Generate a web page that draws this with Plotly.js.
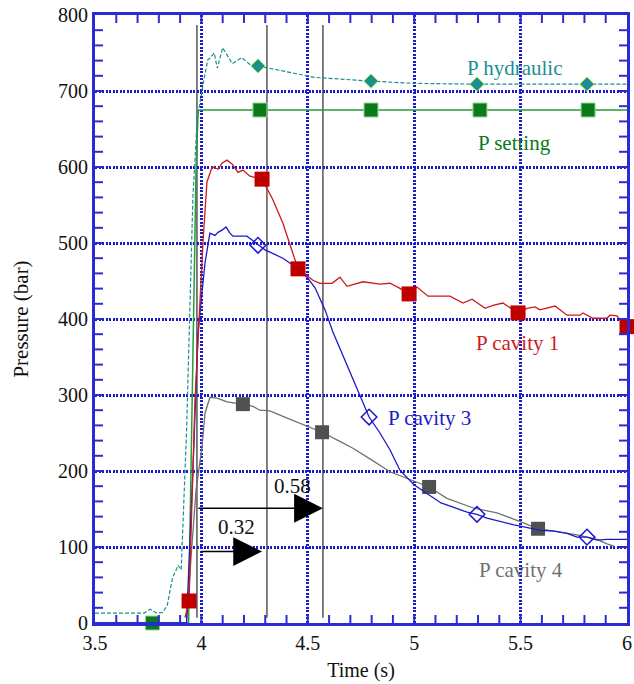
<!DOCTYPE html>
<html>
<head>
<meta charset="utf-8">
<script src="https://cdn.plot.ly/plotly-3.0.1.min.js"></script>
<style>html,body{margin:0;padding:0;background:#fff;}#chart{width:634px;height:684px;}</style>
</head>
<body>
<div id="chart"></div>
<script>
// ---- P setting ----
const settingX = [3.5, 3.94, 3.945, 3.975, 3.985, 6.0];
const settingY = [0, 0, 100, 600, 675, 675];
const settingMX = [3.77, 4.275, 4.797, 5.309, 5.817];
const settingMY = [0, 675, 675, 675, 675];

// ---- P hydraulic ----
const hydX = [3.5, 3.73, 3.76, 3.79, 3.82, 3.84, 3.855, 3.865, 3.885, 3.89, 3.9, 3.905, 3.93, 3.96, 3.98, 3.995, 4.01, 4.03, 4.04, 4.06, 4.075, 4.1, 4.145, 4.19, 4.235, 4.266, 4.53, 4.797, 5.0, 5.295, 5.812, 6.0];
const hydY = [13, 13, 18, 13, 14, 24, 46, 60, 72, 76, 72, 70, 250, 560, 662, 688, 712, 741, 743, 750, 730, 757, 736, 744, 733, 733, 718, 713, 710, 709, 709, 709];
const hydMX = [4.266, 4.797, 5.295, 5.812];
const hydMY = [733, 713, 709, 709];

// ---- P cavity 1 ----
const cav1X = [3.923, 3.942, 3.970, 4.008, 4.026, 4.050, 4.064, 4.078, 4.097, 4.120, 4.144, 4.172, 4.195, 4.228, 4.285, 4.336, 4.383, 4.426, 4.454, 4.524, 4.557, 4.614, 4.651, 4.684, 4.759, 4.839, 4.886, 4.929, 4.976, 5.013, 5.065, 5.168, 5.229, 5.272, 5.333, 5.370, 5.417, 5.488, 5.530, 5.568, 5.591, 5.662, 5.718, 5.779, 5.793, 5.840, 5.906, 5.920, 5.953, 5.967, 6.0];
const cav1Y = [7, 29, 293, 504, 580, 600, 599, 597, 605, 609, 604, 593, 596, 588, 584, 557, 526, 491, 466, 451, 447, 447, 455, 443, 449, 446, 447, 441, 433, 442, 430, 430, 421, 426, 414, 418, 421, 408, 414, 416, 412, 417, 405, 405, 408, 401, 401, 405, 404, 399, 390];
const cav1MX = [3.942, 4.285, 4.454, 4.976, 5.488, 6.0];
const cav1MY = [29, 584, 466, 433, 408, 390];

// ---- P cavity 3 ----
const cav3X = [3.5, 3.93, 3.96, 3.984, 4.017, 4.040, 4.064, 4.078, 4.097, 4.116, 4.134, 4.148, 4.214, 4.242, 4.266, 4.299, 4.322, 4.383, 4.449, 4.496, 4.534, 4.581, 4.618, 4.661, 4.712, 4.788, 4.839, 4.886, 4.933, 4.999, 5.126, 5.248, 5.295, 5.342, 5.469, 5.596, 5.657, 5.718, 5.765, 5.812, 5.859, 5.906, 6.0];
const cav3Y = [0, 0, 200, 382, 474, 513, 510, 514, 517, 521, 513, 509, 509, 503, 497, 491, 488, 480, 467, 455, 441, 412, 383, 355, 320, 271, 250, 228, 201, 182, 158, 146, 143, 138, 129, 122, 121, 118, 113, 113, 109, 110, 110];
const cav3MX = [4.266, 4.788, 5.295, 5.812];
const cav3MY = [497, 271, 143, 113];

// ---- P cavity 4 ----
const cav4X = [3.5, 3.93, 3.955, 3.975, 4.003, 4.017, 4.040, 4.073, 4.102, 4.120, 4.195, 4.242, 4.275, 4.322, 4.383, 4.463, 4.510, 4.567, 4.637, 4.712, 4.792, 4.886, 5.070, 5.154, 5.281, 5.389, 5.502, 5.582, 5.657, 5.765, 5.859, 5.906, 5.939];
const cav4Y = [0, 0, 100, 175, 232, 276, 297, 296, 293, 291, 288, 285, 280, 279, 272, 263, 258, 251, 241, 230, 216, 199, 179, 164, 151, 145, 133, 124, 121, 116, 110, 104, 101];
const cav4MX = [4.195, 4.567, 5.070, 5.582];
const cav4MY = [288, 251, 179, 124];

// ---- event lines and arrows ----
const eventTimes = [3.979, 4.308, 4.571];
const eventSpan = [7, 787];
const arrowLabels = ['0.58', '0.32'];
const arrowTail = [[3.979, 151], [3.993, 94]];
const arrowHead = [[4.571, 151], [4.285, 94]];
const arrowLabelPos = [[4.43, 180], [4.167, 126]];

// ---- series labels ----
const seriesLabels = ['P hydraulic', 'P setting', 'P cavity 1', 'P cavity 3', 'P cavity 4'];
const seriesLabelPos = [[5.47, 730], [5.47, 632], [5.485, 368], [5.07, 270], [5.5, 70]];

// ---- tick labels ----
const xTickVals = [3.5, 4, 4.5, 5, 5.5, 6];
const xTickText = ['3.5', '4', '4.5', '5', '5.5', '6'];
const xRange = [3.5, 6];
const yRange = [0, 800];
const xMinorStep = 0.1;
const yMinorStep = 20;

const cTeal = '#1a8f8f', cGreen = '#2a9a3a', cGreenM = '#0a7a1a', cRed = '#cc1a1a', cRedM = '#c00000',
      cBlue = '#1a1acc', cGray = '#707070', cGrayM = '#505050', cAxis = '#2b2bd6';
const seriesLabelColors = [cTeal, cGreenM, cRed, cBlue, '#707070'];

const fontFam = 'Liberation Serif';

const chartTraces = [
  {x: settingX, y: settingY, mode: 'lines', line: {color: cGreen, width: 1.5}},
  {x: settingMX, y: settingMY, mode: 'markers', marker: {symbol: 'square', size: 14, color: cGreenM, line: {color: '#9ad29a', width: 1}}, cliponaxis: false},
  {x: cav4X, y: cav4Y, mode: 'lines', line: {color: cGray, width: 1.3}},
  {x: cav4MX, y: cav4MY, mode: 'markers', marker: {symbol: 'square', size: 14, color: cGrayM}, cliponaxis: false},
  {x: cav3X, y: cav3Y, mode: 'lines', line: {color: cBlue, width: 1.3}},
  {x: cav3MX, y: cav3MY, mode: 'markers', marker: {symbol: 'diamond-open', size: 12, color: cBlue, line: {width: 1.5}}, cliponaxis: false},
  {x: cav1X, y: cav1Y, mode: 'lines', line: {color: cRed, width: 1.3}},
  {x: cav1MX, y: cav1MY, mode: 'markers', marker: {symbol: 'square', size: 15, color: cRedM}, cliponaxis: false},
  {x: hydX, y: hydY, mode: 'lines', line: {color: cTeal, width: 1.2, dash: '4px,2px'}},
  {x: hydMX, y: hydMY, mode: 'markers', marker: {symbol: 'diamond', size: 11, color: cTeal, line: {color: '#a8e04a', width: 1}}, cliponaxis: false}
];

// plot area size in px (for inward tick length as a fraction of the axis domain)
const plotW = 634 - 95 - 7, plotH = 684 - 15 - 61, tickPx = 8;

const chartShapes = eventTimes.map(t => ({type: 'line', layer: 'below', xref: 'x', yref: 'y', x0: t, x1: t, y0: eventSpan[0], y1: eventSpan[1], line: {color: '#555555', width: 1.5}}));

// inward minor tick marks on all four frame sides, placed through the axes
const tickLine = {color: cAxis, width: 2};
const nX = Math.round((xRange[1] - xRange[0]) / xMinorStep);
for (let i = 1; i < nX; i++) {
  const xv = +(xRange[0] + i * xMinorStep).toFixed(3);
  chartShapes.push({type: 'line', xref: 'x', yref: 'paper', x0: xv, x1: xv, y0: 0, y1: tickPx / plotH, line: tickLine});
  chartShapes.push({type: 'line', xref: 'x', yref: 'paper', x0: xv, x1: xv, y0: 1 - tickPx / plotH, y1: 1, line: tickLine});
}
const nY = Math.round((yRange[1] - yRange[0]) / yMinorStep);
for (let i = 1; i < nY; i++) {
  const yv = yRange[0] + i * yMinorStep;
  chartShapes.push({type: 'line', xref: 'paper', yref: 'y', x0: 0, x1: tickPx / plotW, y0: yv, y1: yv, line: tickLine});
  chartShapes.push({type: 'line', xref: 'paper', yref: 'y', x0: 1 - tickPx / plotW, x1: 1, y0: yv, y1: yv, line: tickLine});
}

const noteList = [];
arrowLabels.forEach((t, i) => {
  noteList.push({x: arrowHead[i][0], y: arrowHead[i][1], ax: arrowTail[i][0], ay: arrowTail[i][1], xref: 'x', yref: 'y', axref: 'x', ayref: 'y', text: '', showarrow: true, arrowhead: 2, arrowsize: 3.6, arrowwidth: 1.6, arrowcolor: '#000'});
  noteList.push({x: arrowLabelPos[i][0], y: arrowLabelPos[i][1], xref: 'x', yref: 'y', text: t, showarrow: false, font: {family: fontFam, size: 21, color: '#111'}});
});
seriesLabels.forEach((t, i) => {
  noteList.push({x: seriesLabelPos[i][0], y: seriesLabelPos[i][1], xref: 'x', yref: 'y', text: t, showarrow: false, font: {family: fontFam, size: 21, color: seriesLabelColors[i]}});
});

const axisCommon = {
  showline: true, linecolor: cAxis, linewidth: 3, mirror: true, layer: 'above traces',
  showgrid: true, gridcolor: '#1a1acc', gridwidth: 2.5, griddash: '2px,1.5px',
  zeroline: false, ticks: '',
  tickfont: {family: fontFam, size: 20, color: '#111'}
};

const chartLayout = {
  width: 634, height: 684,
  margin: {l: 95, r: 7, t: 15, b: 61},
  paper_bgcolor: '#fff', plot_bgcolor: '#fff',
  font: {family: fontFam},
  showlegend: false,
  xaxis: Object.assign({}, axisCommon, {
    range: xRange, tickmode: 'array', tickvals: xTickVals, ticktext: xTickText,
    title: {text: 'Time (s)', font: {family: fontFam, size: 20, color: '#111'}, standoff: 10}
  }),
  yaxis: Object.assign({}, axisCommon, {
    range: yRange, dtick: 100,
    title: {text: 'Pressure (bar)', font: {family: fontFam, size: 21, color: '#111'}, standoff: 24}
  }),
  shapes: chartShapes,
  annotations: noteList
};

Plotly.newPlot('chart', chartTraces, chartLayout, {displayModeBar: false});
</script>
</body>
</html>
